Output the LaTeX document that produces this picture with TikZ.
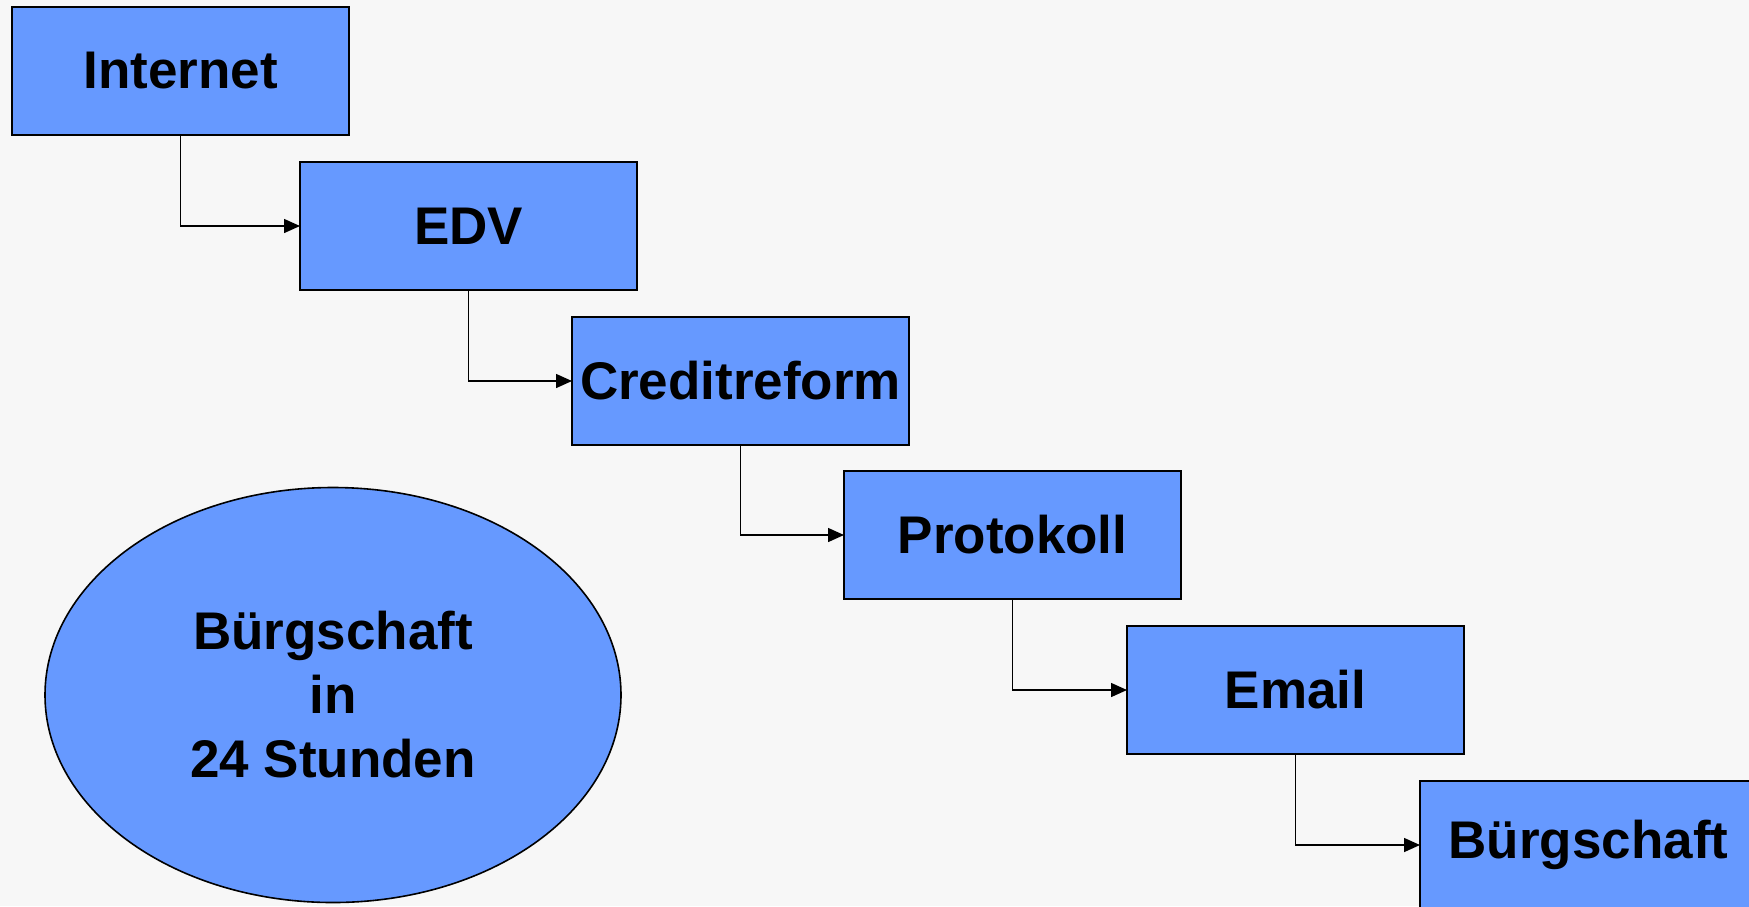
\documentclass[tikz,border=0pt]{standalone}
\usepackage{fontspec}
\setmainfont{Liberation Sans}
\usetikzlibrary{arrows.meta,shapes.geometric}
\definecolor{bg}{HTML}{F7F7F7}
\definecolor{boxblue}{HTML}{6699FF}
\begin{document}
\begin{tikzpicture}[x=0.5pt,y=-0.5pt,
  stepbox/.style={draw=black,fill=boxblue,line width=1pt,minimum width=168.5pt,minimum height=64pt,inner sep=0pt,outer sep=0pt,anchor=north west,font=\fontsize{26.5}{32}\selectfont\bfseries},
  oval/.style={ellipse,draw=black,fill=boxblue,line width=0.8pt,minimum width=288pt,minimum height=207.5pt,inner sep=0pt,outer sep=0pt,align=center,font=\fontsize{26.5}{32}\selectfont\bfseries},
  conn/.style={draw=black,line width=0.75pt,-{Triangle[length=8pt,width=7pt]}}]
\useasboundingbox (0,0) rectangle (1749,906);
\clip (0,0) rectangle (1749,906);
\fill[bg] (0,0) rectangle (1749,906);
\node[stepbox] (n1) at (12,7) {Internet};
\node[stepbox] (n2) at (300,162) {EDV};
\node[stepbox] (n3) at (572,317) {Creditreform};
\node[stepbox] (n4) at (844,471) {Protokoll};
\node[stepbox] (n5) at (1127,626) {Email};
\node[stepbox] (n6) at (1420,781) {Bürgschaft};
\node[oval] (ov) at (333,695) {Bürgschaft\\in\\24 Stunden};
\draw[conn] (n1.south) |- (n2.west);
\draw[conn] (n2.south) |- (n3.west);
\draw[conn] (n3.south) |- (n4.west);
\draw[conn] (n4.south) |- (n5.west);
\draw[conn] (n5.south) |- (n6.west);
\end{tikzpicture}
\end{document}
